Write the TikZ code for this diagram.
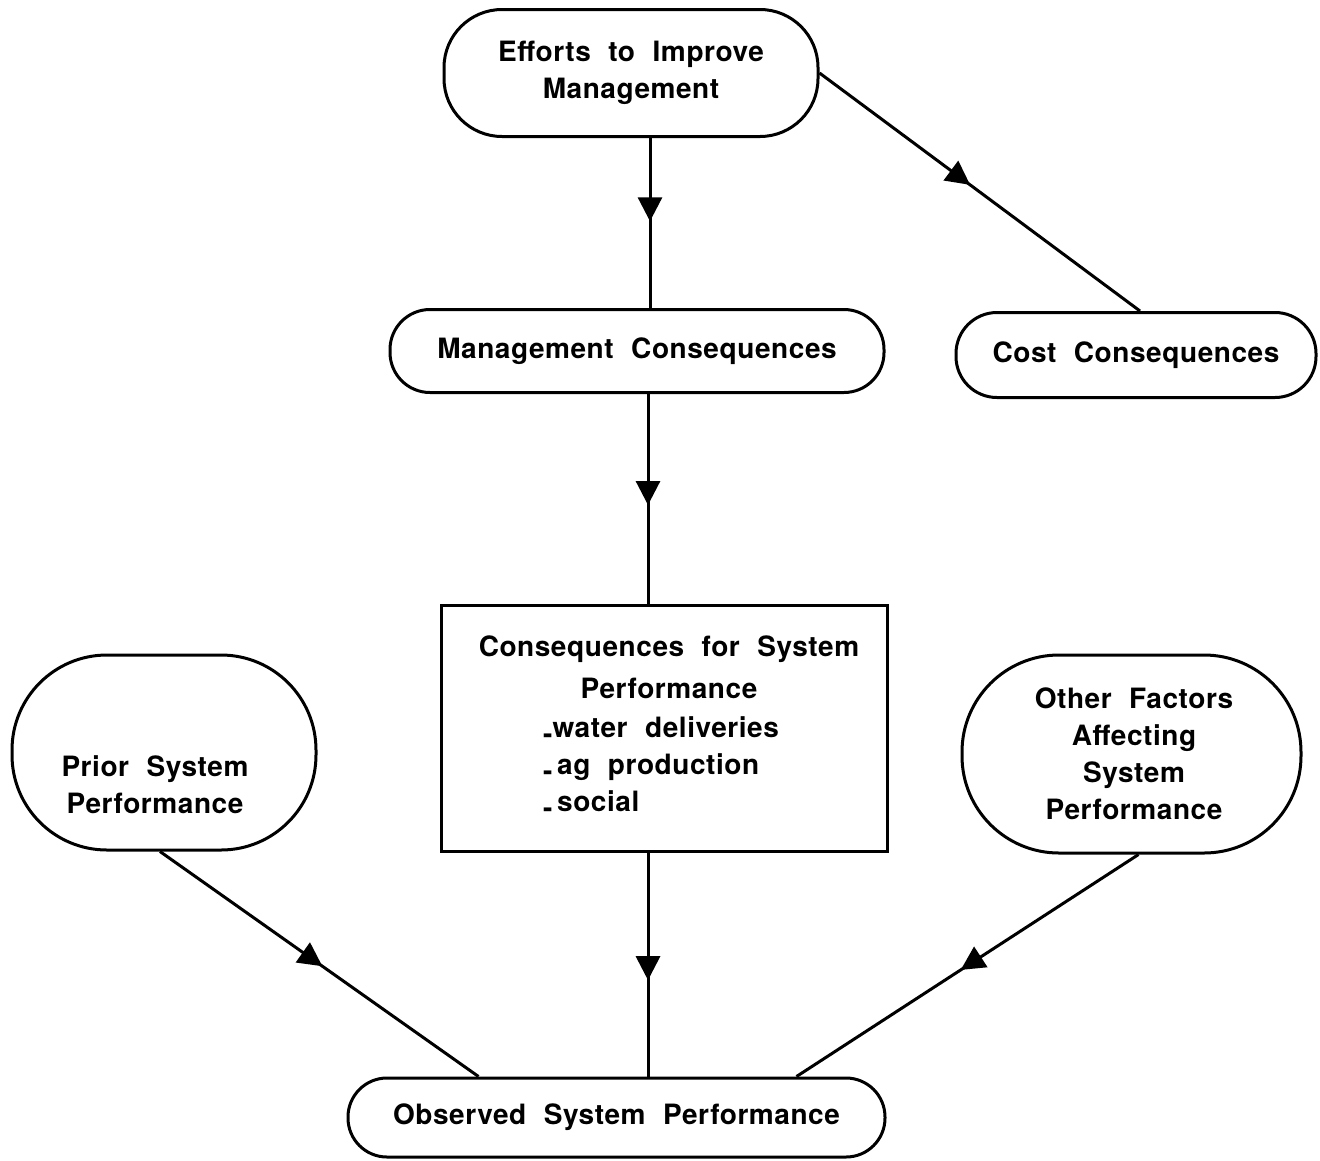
\documentclass[tikz,border=0pt]{standalone}
\usepackage{fontspec}
\setmainfont[WordSpace=2.1,LetterSpace=2]{TeX Gyre Heros}
\usetikzlibrary{decorations.markings,arrows.meta}
\tikzset{
  shp/.style={draw, line width=3pt, rounded corners=#1, inner sep=0pt},
  lbl/.style={font=\bfseries\fontsize{28}{37}\selectfont, align=center, inner sep=0pt},
  conn/.style={line width=3pt, postaction={decorate},
    decoration={markings, mark=at position #1 with {\arrow{Triangle[length=24pt,width=24pt]}}}},
}
\begin{document}
\begin{tikzpicture}[x=1pt,y=-1pt]
\useasboundingbox (0,0) rectangle (1320,1160);
\node[shp=58pt, minimum width=374pt, minimum height=127pt, lbl] (eff) at (631,73) {Efforts to Improve\\Management};
\node[shp=40pt, minimum width=494pt, minimum height=83pt, lbl] (mgmt) at (637,351) {Management Consequences};
\node[shp=41pt, minimum width=360pt, minimum height=85pt, lbl] (cost) at (1136,355) {Cost Consequences};
\node[draw, line width=3pt, minimum width=446pt, minimum height=246pt] (cons) at (664,728) {};
\node[lbl, font=\bfseries\fontsize{28}{42}\selectfont] (constitle) at (669,667) {Consequences for System\\Performance};
\node[lbl, align=left, anchor=north west] (conslist) at (543,716) {\raisebox{-6pt}{-}water deliveries\\\raisebox{-6pt}{-}\,ag production\\\raisebox{-6pt}{-}\,social};
\node[shp=95pt, minimum width=304pt, minimum height=195pt] (prior) at (164,752.5) {};
\node[lbl] (priortext) at (155,785) {Prior System\\Performance};
\node[shp=97pt, minimum width=339pt, minimum height=198pt] (other) at (1131.5,754) {};
\node[lbl] (othertext) at (1134,754) {Other Factors\\Affecting\\System\\Performance};
\node[shp=39pt, minimum width=537pt, minimum height=79pt, lbl] (obs) at (616.5,1117.5) {Observed System Performance};

\draw[conn=0.49] ([xshift=19pt]eff.south) -- ([xshift=19pt]eff.south |- mgmt.north);
\draw[conn=0.47] (eff.east) -- ([xshift=4pt]cost.north);
\draw[conn=0.53] ([xshift=11pt]mgmt.south) -- ([xshift=11pt]mgmt.south |- cons.north);
\draw[conn=0.57] ([xshift=-16pt]cons.south) -- ([xshift=-16pt]cons.south |- obs.north);
\draw[conn=0.51] ([xshift=-4pt]prior.south) -- ([xshift=-138pt]obs.north);
\draw[conn=0.52] ([xshift=7pt]other.south) -- ([xshift=180pt]obs.north);
\end{tikzpicture}
\end{document}
